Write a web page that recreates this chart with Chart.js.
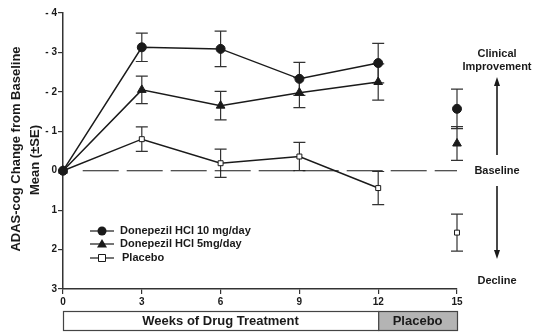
<!DOCTYPE html>
<html>
<head>
<meta charset="utf-8">
<script src="https://cdn.jsdelivr.net/npm/chart.js@4.4.1/dist/chart.umd.min.js"></script>
<style>
html,body{margin:0;padding:0;background:#fff;}
#wrap{width:544px;height:335px;position:relative;}
</style>
</head>
<body>
<div id="wrap"><canvas id="c" width="544" height="335"></canvas></div>
<script>
const weeks = [0, 3, 6, 9, 12, 15];
const xTicks = [0, 3, 6, 9, 12, 15];
const yTicks = [-4, -3, -2, -1, 0, 1, 2, 3];
const tenMg = [0, -3.13, -3.09, -2.33, -2.73, -1.57];
const tenMgSE = [0, 0.36, 0.45, 0.42, 0.50, 0.50];
const fiveMg = [0, -2.05, -1.65, -1.98, -2.25, -0.69];
const fiveMgSE = [0, 0.35, 0.36, 0.38, 0.46, 0.43];
const placebo = [0, -0.80, -0.19, -0.36, 0.44, 1.57];
const placeboSE = [0, 0.31, 0.36, 0.36, 0.42, 0.47];
const seriesNames = ['Donepezil HCl 10 mg/day', 'Donepezil HCl 5mg/day', 'Placebo'];
const yTitle = ['ADAS-cog Change from Baseline', 'Mean (\u00B1SE)'];
const baselineSpan = [0.75, 15];

const FONT = '"Liberation Sans", Arial, sans-serif';
const INK = '#1a1a1a';

function pts(vals){ return weeks.map((w,i)=>({x:w,y:vals[i]})); }
// no line between week 12 (end of treatment) and week 15 (placebo washout)
const seg = {borderColor: ctx => ctx.p1DataIndex === 5 ? 'rgba(0,0,0,0)' : INK};

const series = [
  {vals: tenMg, se: tenMgSE, style: 'circle', r: 4.5, fill: INK},
  {vals: fiveMg, se: fiveMgSE, style: 'triangle', r: 5, fill: INK},
  {vals: placebo, se: placeboSE, style: 'rect', r: 3.5, fill: '#fff'}
];

const overlay = {
  id: 'overlay',
  beforeDatasetsDraw(chart){
    const c = chart.ctx, xs = chart.scales.x, ys = chart.scales.y;
    c.save();
    c.strokeStyle = '#333';
    c.lineWidth = 1.2;
    series.forEach(s=>{
      weeks.forEach((w,i)=>{
        if (!s.se[i]) return;
        const x = xs.getPixelForValue(w);
        const y1 = ys.getPixelForValue(s.vals[i]-s.se[i]);
        const y2 = ys.getPixelForValue(s.vals[i]+s.se[i]);
        c.beginPath();
        c.moveTo(x,y1); c.lineTo(x,y2);
        c.moveTo(x-6,y1); c.lineTo(x+6,y1);
        c.moveTo(x-6,y2); c.lineTo(x+6,y2);
        c.stroke();
      });
    });
    c.restore();
  },
  afterDraw(chart){
    const c = chart.ctx, xs = chart.scales.x, ys = chart.scales.y;
    c.save();
    // y axis title (two rotated lines)
    c.fillStyle = INK; c.textAlign = 'center'; c.textBaseline = 'middle';
    c.font = 'bold 13px ' + FONT;
    c.save(); c.translate(16, 149); c.rotate(-Math.PI/2); c.fillText(yTitle[0], 0, 0); c.restore();
    c.save(); c.translate(35, 160); c.rotate(-Math.PI/2); c.fillText(yTitle[1], 0, 0); c.restore();
    // legend
    const lx = 90, rows = [231, 244, 258];
    series.forEach((s,i)=>{
      const y = rows[i];
      c.strokeStyle = INK; c.lineWidth = 1.2;
      c.beginPath(); c.moveTo(lx,y); c.lineTo(lx+24,y); c.stroke();
      const mx = lx+12;
      c.fillStyle = s.fill; c.strokeStyle = INK; c.lineWidth = 1;
      c.beginPath();
      if (s.style==='circle'){ c.arc(mx,y,4.5,0,Math.PI*2); c.fill(); }
      else if (s.style==='triangle'){ c.moveTo(mx,y-5); c.lineTo(mx+5,y+3.5); c.lineTo(mx-5,y+3.5); c.closePath(); c.fill(); }
      else { c.rect(mx-3.5,y-3.5,7,7); c.fill(); c.stroke(); }
      c.fillStyle = INK;
      c.font = 'bold 11px ' + FONT;
      c.textBaseline = 'middle'; c.textAlign = 'left';
      c.fillText(seriesNames[i], lx + (i===2 ? 32 : 30), y);
    });
    // right annotations
    const ax = 497;
    c.fillStyle = INK; c.textAlign = 'center'; c.textBaseline = 'middle';
    c.font = 'bold 11px ' + FONT;
    c.fillText('Clinical', ax, 54);
    c.fillText('Improvement', ax, 67);
    c.fillText('Baseline', ax, ys.getPixelForValue(0));
    c.fillText('Decline', ax, 281);
    c.strokeStyle = INK; c.lineWidth = 1.6;
    c.beginPath(); c.moveTo(ax,155); c.lineTo(ax,84); c.stroke();
    c.beginPath(); c.moveTo(ax,77); c.lineTo(ax-3,86); c.lineTo(ax+3,86); c.closePath(); c.fill();
    c.beginPath(); c.moveTo(ax,186); c.lineTo(ax,252); c.stroke();
    c.beginPath(); c.moveTo(ax,259); c.lineTo(ax-3,250); c.lineTo(ax+3,250); c.closePath(); c.fill();
    // bottom period boxes
    const x0 = xs.getPixelForValue(0), x12 = xs.getPixelForValue(12), x15 = xs.getPixelForValue(15);
    const by = 311, bh = 19;
    c.lineWidth = 1.2; c.strokeStyle = '#444';
    c.fillStyle = '#fff';
    c.fillRect(x0, by, x12-x0, bh); c.strokeRect(x0+0.5, by+0.5, x12-x0, bh);
    c.fillStyle = '#b4b4b4';
    c.fillRect(x12, by, x15-x12, bh); c.strokeRect(x12+0.5, by+0.5, x15-x12, bh);
    c.fillStyle = INK; c.font = 'bold 13px ' + FONT;
    c.fillText('Weeks of Drug Treatment', (x0+x12)/2, by+bh/2+1);
    c.fillText('Placebo', (x12+x15)/2, by+bh/2+1);
    c.restore();
  }
};

const datasets = series.map((s,i)=>({
  label: seriesNames[i],
  data: pts(s.vals),
  borderColor: INK,
  borderWidth: 1.5,
  pointStyle: s.style,
  pointRadius: s.r,
  pointBackgroundColor: s.fill,
  pointBorderColor: INK,
  pointBorderWidth: 1,
  segment: seg,
  clip: false,
  order: i+1
}));
datasets.push({
  label: 'baseline',
  data: baselineSpan.map(x=>({x:x,y:0})),
  borderColor: INK,
  borderWidth: 1.1,
  borderDash: [36, 8],
  pointRadius: 0,
  clip: false,
  order: 10
});

new Chart(document.getElementById('c'), {
  type: 'line',
  data: {datasets},
  options: {
    responsive: false,
    animation: false,
    layout: {padding: {top: 13, right: 87, left: 0, bottom: 0}},
    plugins: {legend: {display: false}, tooltip: {enabled: false}},
    scales: {
      x: {
        type: 'linear', min: 0, max: 15,
        afterBuildTicks: s => { s.ticks = xTicks.map(v=>({value:v})); },
        afterFit: s => { s.height = 46; },
        grid: {drawOnChartArea: false, drawTicks: true, tickLength: 5, color: '#333', lineWidth: 1.2},
        border: {display: true, color: '#333', width: 1.5},
        ticks: {color: INK, font: {family: FONT, size: 10, weight: 'bold'}, padding: 2, maxRotation: 0}
      },
      y: {
        type: 'linear', min: -4, max: 3, reverse: true,
        afterBuildTicks: s => { s.ticks = yTicks.map(v=>({value:v})); },
        afterFit: s => { s.width = 63; },
        grid: {drawOnChartArea: false, drawTicks: true, tickLength: 5, color: '#333', lineWidth: 1.2},
        border: {display: true, color: '#333', width: 1.5},
        ticks: {color: INK, font: {family: FONT, size: 10, weight: 'bold'}, padding: 1,
                callback: v => v < 0 ? '- ' + Math.abs(v) : String(v)}
      }
    }
  },
  plugins: [overlay]
});
</script>
</body>
</html>
